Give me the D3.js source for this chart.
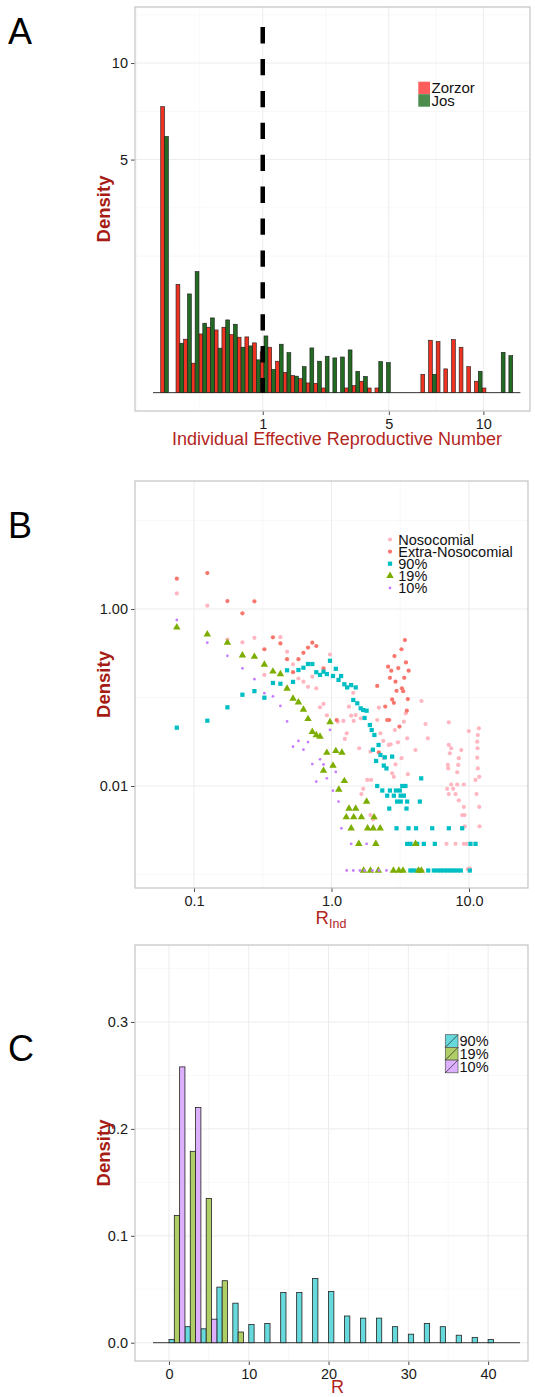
<!DOCTYPE html>
<html>
<head>
<meta charset="utf-8">
<script src="https://cdn.jsdelivr.net/npm/d3@7"></script>
<style>
  body { margin: 0; background: #fff; }
  svg { display: block; font-family: "Liberation Sans", Arial, sans-serif; }
</style>
</head>
<body>
<svg id="fig" width="535" height="1397"></svg>
<script>
// ===============================
// DATA
// ===============================

// Panel A: histogram on a square-root axis, bins of equal width in sqrt space
const sqrtBinWidth = 0.075;
const zorzor = [7.53, 0, 1.08, 0.263, 0.080, 0.317, 0.394, 0.362, 0.394, 0.310, 0.283, 0.286, 0.228, 0.153, 0.190, 0.091,
  0.038, 0.027, 0.018, 0.0087, 0.0081, 0.002, 0, 0, 0.002, 0.0045, 0.012, 0.002, 0.002, 0, 0, 0, 0, 0, 0.031, 0.253,
  0.240, 0.052, 0.259, 0.190, 0.062, 0.012, 0.002, 0, 0, 0];
const jos = [6.04, 0, 0.225, 0.897, 1.348, 0.444, 0.514, 0.182, 0.487, 0.431, 0.190, 0.201, 0.099, 0.296, 0.050, 0.216,
  0.147, 0.025, 0.062, 0.184, 0.091, 0.122, 0.111, 0.117, 0.168, 0.042, 0.024, 0, 0.089, 0.083, 0, 0, 0, 0, 0, 0.031,
  0, 0, 0, 0, 0, 0.042, 0, 0, 0.150, 0.126];
const cutoff = 1;
const cutoffTop = 12.3;
const aXTicks = [1, 5, 10];
const aYTicks = [5, 10];
const aLegend = ["Zorzor", "Jos"];

// Panel B: [R_ind, density]
const nosocomial = [[0.075,1.50],[0.125,1.09],[0.175,0.452],[0.225,0.420],[0.275,0.473],[0.325,0.180],[0.425,0.480],
  [0.475,0.329],[0.525,0.237],[0.575,0.164],[0.625,0.151],[0.675,0.132],[0.725,0.172],[0.775,0.127],[0.825,0.0775],
  [0.875,0.0845],[0.925,0.0629],[0.975,0.306],[1.11,0.0533],[1.22,0.0543],[1.25,0.034],[1.29,0.0394],[1.34,0.0787],
  [1.39,0.0623],[1.44,0.113],[1.45,0.0543],[1.50,0.0634],[1.59,0.0267],[1.63,0.0582],[1.65,0.0081],[1.70,0.0093],
  [1.82,0.0117],[1.92,0.0244],[1.94,0.0117],[1.92,0.0047],[2.01,0.0042],[2.15,0.0557],[2.21,0.0767],[2.27,0.0394],
  [2.38,0.0323],[2.40,0.0206],[2.61,0.0291],[2.69,0.0296],[2.76,0.0139],[2.84,0.0127],[2.89,0.0429],[2.92,0.0176],
  [3.04,0.0312],[3.23,0.0206],[3.36,0.0533],[3.47,0.0663],[3.55,0.0346],[3.59,0.0136],[3.75,0.00111],[4.08,0.0255],
  [4.51,0.0913],[4.57,0.00111],[4.83,0.0502],[5.02,0.0346],[6.94,0.0093],[6.86,0.00222],[7.01,0.0173],[7.06,0.0158],
  [7.13,0.0525],[7.13,0.0291],[7.13,0.0081],[7.25,0.0234],[7.42,0.0267],[7.42,0.0104],[7.67,0.0093],[7.98,0.0081],
  [7.98,0.00222],[8.21,0.0143],[8.21,0.0104],[8.35,0.0173],[8.43,0.0206],[8.43,0.0069],[8.78,0.0255],[8.92,0.0047],
  [9.17,0.0104],[9.17,0.0058],[9.17,0.00222],[9.28,0.0047],[9.32,0.0035],[9.59,0.00222],[9.80,0.00115],[9.97,0.0418],
  [10.13,0.00117],[11.15,0.0117],[11.34,0.0081],[11.47,0.0317],[11.47,0.0209],[11.53,0.0267],[11.59,0.0377],
  [11.59,0.0158],[11.79,0.0449],[11.87,0.0127],[11.87,0.0058],[11.92,0.0035]];
const extraNosocomial = [[0.075,2.20],[0.125,2.55],[0.175,1.23],[0.225,0.894],[0.275,1.22],[0.325,0.351],[0.375,0.479],
  [0.425,0.408],[0.475,0.271],[0.525,0.193],[0.575,0.271],[0.625,0.320],[0.675,0.367],[0.725,0.416],[0.775,0.382],
  [0.875,0.214],[1.09,0.0557],[2.15,0.135],[2.21,0.024],[2.46,0.079],[2.54,0.0557],[2.63,0.0557],[2.58,0.223],
  [2.66,0.167],[2.72,0.201],[2.76,0.095],[2.84,0.087],[2.87,0.294],[2.92,0.151],[2.97,0.119],[3.06,0.215],[3.12,0.047],
  [3.23,0.351],[3.25,0.127],[3.32,0.118],[3.38,0.167],[3.42,0.446],[3.48,0.249],[3.53,0.071],[3.59,0.096],[3.64,0.201]];
const vacc90 = [[0.075,0.0456],[0.125,0.0547],[0.175,0.0775],[0.225,0.1075],[0.275,0.118],[0.325,0.0995],[0.375,0.146],
  [0.425,0.143],[0.475,0.203],[0.525,0.150],[0.575,0.2045],[0.625,0.217],[0.675,0.239],[0.725,0.239],[0.775,0.193],
  [0.825,0.180],[0.875,0.196],[0.925,0.184],[0.975,0.260],[1.025,0.175],[1.075,0.211],[1.125,0.158],[1.175,0.175],
  [1.24,0.141],[1.30,0.130],[1.39,0.138],[1.50,0.130],[1.44,0.0937],[1.54,0.086],[1.63,0.0755],[1.70,0.0722],
  [1.80,0.0709],[1.74,0.0587],[1.90,0.0489],[1.96,0.0429],[2.05,0.0377],[2.20,0.0291],[2.00,0.0257],[2.27,0.0224],
  [2.44,0.0211],[2.76,0.0215],[2.11,0.0192],[2.40,0.017],[2.51,0.0158],[4.49,0.0122],[2.15,0.0100],[2.34,0.00889],
  [2.66,0.00889],[2.94,0.00889],[3.14,0.00889],[3.27,0.0100],[3.45,0.0100],[2.54,0.00778],[2.84,0.00778],
  [3.18,0.00778],[3.36,0.00778],[3.00,0.00667],[3.19,0.00667],[3.55,0.00667],[4.39,0.00667],[2.63,0.00556],
  [3.51,0.00556],[2.97,0.00333],[3.63,0.00333],[4.12,0.00333],[5.40,0.00333],[7.13,0.00333],[8.92,0.00333],
  [3.55,0.00222],[3.75,0.00222],[4.20,0.00222],[4.69,0.00222],[5.64,0.00222],[10.25,0.00222],[11.15,0.00222],
  [3.75,0.00111],[3.97,0.00111],[4.29,0.00111],[5.05,0.00111],[5.55,0.00111],[5.90,0.00111],[6.24,0.00111],
  [6.60,0.00111],[6.98,0.00111],[7.37,0.00111],[7.80,0.00111],[8.25,0.00111],[8.72,0.00111],[10.13,0.00111]];
const vacc19 = [[0.075,0.621],[0.125,0.518],[0.175,0.416],[0.225,0.300],[0.275,0.289],[0.325,0.235],[0.375,0.197],
  [0.425,0.184],[0.475,0.126],[0.525,0.0972],[0.575,0.0883],[0.625,0.073],[0.675,0.0572],[0.725,0.041],[0.775,0.0377],
  [0.825,0.0361],[0.975,0.0529],[0.925,0.0238],[1.075,0.0249],[1.19,0.0239],[0.875,0.0149],[1.025,0.017],[1.24,0.0114],
  [1.13,0.0091],[1.34,0.00556],[1.50,0.00556],[1.80,0.00667],[1.28,0.00444],[1.45,0.00444],[1.65,0.00444],
  [2.04,0.00444],[1.39,0.00333],[1.83,0.00333],[2.01,0.00333],[2.26,0.00333],[1.58,0.00222],[2.10,0.00222],
  [4.08,0.00222],[1.71,0.00111],[1.92,0.00111],[2.19,0.00111],[2.82,0.00111],[3.09,0.00111],[3.31,0.00111],
  [4.29,0.00111],[4.50,0.00111]];
const vacc10 = [[0.075,0.751],[0.125,0.416],[0.175,0.296],[0.225,0.214],[0.275,0.161],[0.325,0.112],[0.375,0.103],
  [0.425,0.0802],[0.475,0.0536],[0.525,0.0278],[0.575,0.0323],[0.625,0.0257],[0.675,0.0314],[0.725,0.0177],
  [0.775,0.0112],[0.825,0.020],[0.875,0.0175],[0.925,0.0122],[0.975,0.0432],[1.025,0.00885],[1.075,0.0144],
  [1.125,0.00667],[1.18,0.00333],[1.39,0.00222],[1.80,0.00222],[1.29,0.00111],[1.44,0.00111],[1.61,0.00111],
  [1.74,0.00111],[1.98,0.00111],[2.21,0.00111],[2.51,0.00111]];
const bXTicks = [0.1, 1, 10];
const bXLabels = ["0.1", "1.0", "10.0"];
const bYTicks = [0.01, 1];
const bYLabels = ["0.01", "1.00"];
const bLegend = ["Nosocomial", "Extra-Nosocomial", "90%", "19%", "10%"];

// Panel C: histogram of R, bins of width 2 starting at 0
const rBinStart = 0;
const rBinWidth = 2;
const r90 = [0.003, 0.015, 0.013, 0.052, 0.037, 0.017, 0.018, 0.047, 0.047, 0.060, 0.048, 0.025, 0.023, 0.023,
  0.015, 0.008, 0.018, 0.015, 0.007, 0.005, 0.003];
const r19 = [0.119, 0.179, 0.135, 0.058, 0.010];
const r10 = [0.258, 0.220, 0.022];
const cXTicks = [0, 10, 20, 30, 40];
const cYTicks = [0, 0.1, 0.2, 0.3];
const cLegend = ["90%", "19%", "10%"];

// ===============================
// HELPERS
// ===============================
const svg = d3.select("#fig");
const titleRed = "#a61c14";
const labelRed = "#b3261e";

const sq = s => Math.sign(s) * s * s;

// ggplot-like minor breaks: midpoints between majors in transformed space
function minorBreaks(major, f, finv) {
  const t = major.map(f);
  const d = t[1] - t[0];
  const ext = [t[0] - d, ...t, t[t.length - 1] + d];
  const out = [ext[0], ext[ext.length - 1]];
  for (let i = 0; i < ext.length - 1; i++) out.push((ext[i] + ext[i + 1]) / 2);
  return out.map(finv);
}

function panel(box, x, y, opt) {
  const g = svg.append("g");
  g.append("rect").attr("x", box.left).attr("y", box.top)
    .attr("width", box.right - box.left).attr("height", box.bottom - box.top).attr("fill", "#fff");

  const inX = v => { const p = x(v); return p > box.left + 1 && p < box.right - 1; };
  const inY = v => { const p = y(v); return p > box.top + 1 && p < box.bottom - 1; };

  const vline = (vals, w, c) => g.append("g").selectAll("line").data(vals.filter(inX)).join("line")
    .attr("x1", d => x(d)).attr("x2", d => x(d)).attr("y1", box.top).attr("y2", box.bottom)
    .attr("stroke", c).attr("stroke-width", w);
  const hline = (vals, w, c) => g.append("g").selectAll("line").data(vals.filter(inY)).join("line")
    .attr("y1", d => y(d)).attr("y2", d => y(d)).attr("x1", box.left).attr("x2", box.right)
    .attr("stroke", c).attr("stroke-width", w);

  vline(opt.xMinor, 0.6, "#f3f3f3");
  hline(opt.yMinor, 0.6, "#f3f3f3");
  vline(opt.xTicks, 1, "#ececec");
  hline(opt.yTicks, 1, "#ececec");

  const ax = svg.append("g").attr("transform", `translate(0,${box.bottom})`)
    .call(d3.axisBottom(x).tickValues(opt.xTicks).tickFormat((d, i) => opt.xLabels[i]).tickSize(4).tickPadding(4));
  const ay = svg.append("g").attr("transform", `translate(${box.left},0)`)
    .call(d3.axisLeft(y).tickValues(opt.yTicks).tickFormat((d, i) => opt.yLabels[i]).tickSize(4).tickPadding(3));
  [ax, ay].forEach(a => {
    a.select(".domain").remove();
    a.selectAll(".tick line").attr("stroke", "#4d4d4d");
    a.selectAll(".tick text").attr("font-size", 14.5).attr("fill", "#1a1a1a")
      .attr("font-family", '"Liberation Sans", Arial, sans-serif');
  });

  svg.append("text").attr("transform", `translate(110,${(box.top + box.bottom) / 2}) rotate(-90)`)
    .attr("text-anchor", "middle").attr("font-size", 18.5).attr("font-weight", "bold")
    .attr("fill", titleRed).text("Density");

  svg.append("text").attr("x", 8).attr("y", opt.letterY).attr("font-size", 36).attr("fill", "#000").text(opt.letter);
  return g;
}

function border(box) {
  svg.append("rect").attr("x", box.left).attr("y", box.top)
    .attr("width", box.right - box.left).attr("height", box.bottom - box.top)
    .attr("fill", "none").attr("stroke", "#c4c4c4").attr("stroke-width", 1.2);
}

// ===============================
// PANEL A
// ===============================
const boxA = { left: 135, right: 530, top: 7, bottom: 411 };
const xA = d3.scaleSqrt().domain([-0.0635, 13.10]).range([boxA.left, boxA.right]);
const yA = d3.scaleSqrt().domain([-0.031, 13.69]).range([boxA.bottom, boxA.top]);

panel(boxA, xA, yA, {
  xTicks: aXTicks, xLabels: aXTicks.map(String), yTicks: aYTicks, yLabels: aYTicks.map(String),
  xMinor: minorBreaks(aXTicks, Math.sqrt, sq), yMinor: minorBreaks(aYTicks, Math.sqrt, sq),
  letter: "A", letterY: 44
});

// zero-height bins draw the baseline, one empty bin either side
svg.append("line")
  .attr("x1", xA(sq(-sqrtBinWidth))).attr("x2", xA(sq((zorzor.length + 1) * sqrtBinWidth)))
  .attr("y1", yA(0)).attr("y2", yA(0)).attr("stroke", "#333").attr("stroke-width", 1);

const barsA = [];
zorzor.forEach((v, i) => barsA.push({ lo: i * sqrtBinWidth, hi: (i + 0.5) * sqrtBinWidth, v, c: "#ee3322" }));
jos.forEach((v, i) => barsA.push({ lo: (i + 0.5) * sqrtBinWidth, hi: (i + 1) * sqrtBinWidth, v, c: "#236b23" }));

svg.append("g").selectAll("rect").data(barsA.filter(d => d.v > 0)).join("rect")
  .attr("x", d => xA(sq(d.lo)))
  .attr("width", d => xA(sq(d.hi)) - xA(sq(d.lo)))
  .attr("y", d => yA(d.v))
  .attr("height", d => yA(0) - yA(d.v))
  .attr("fill", d => d.c).attr("stroke", "#1a1a1a").attr("stroke-width", 0.6);

svg.append("line")
  .attr("x1", xA(cutoff)).attr("x2", xA(cutoff)).attr("y1", yA(cutoffTop)).attr("y2", yA(0))
  .attr("stroke", "#000").attr("stroke-width", 4.5).attr("stroke-dasharray", "16.3,15.6");

border(boxA);

const legA = svg.append("g");
["#ff5c5c", "#4c8c4c"].forEach((c, i) => {
  legA.append("rect").attr("x", 418.3).attr("y", 81.7 + i * 12.5).attr("width", 11.7).attr("height", 12.5).attr("fill", c);
  legA.append("text").attr("x", 431.5).attr("y", 88 + i * 12.5).attr("dy", "0.35em")
    .attr("font-size", 15).attr("fill", "#111").text(aLegend[i]);
});

svg.append("text").attr("x", 337).attr("y", 445).attr("text-anchor", "middle")
  .attr("font-size", 18).attr("fill", labelRed).text("Individual Effective Reproductive Number");

// ===============================
// PANEL B
// ===============================
const boxB = { left: 135, right: 528, top: 481, bottom: 888 };
const xB = d3.scaleLog().domain([0.03724, 26.85]).range([boxB.left, boxB.right]);
const yB = d3.scaleLog().domain([0.000704, 27.94]).range([boxB.bottom, boxB.top]);
const p10 = t => Math.pow(10, t);

panel(boxB, xB, yB, {
  xTicks: bXTicks, xLabels: bXLabels, yTicks: bYTicks, yLabels: bYLabels,
  xMinor: minorBreaks(bXTicks, Math.log10, p10), yMinor: minorBreaks(bYTicks, Math.log10, p10),
  letter: "B", letterY: 538
});

const seriesB = [
  { data: nosocomial, type: d3.symbolCircle, size: 14, c: "#ffb6c1" },
  { data: extraNosocomial, type: d3.symbolCircle, size: 14, c: "#f8766d" },
  { data: vacc90, type: d3.symbolSquare, size: 18, c: "#00bfc4" },
  { data: vacc19, type: d3.symbolTriangle, size: 24, c: "#7cae00" },
  { data: vacc10, type: d3.symbolCircle, size: 6, c: "#c77cff" }
];

seriesB.forEach(s => {
  const sym = d3.symbol().type(s.type).size(s.size);
  svg.append("g").selectAll("path").data(s.data).join("path")
    .attr("transform", d => `translate(${xB(d[0])},${yB(d[1])})`)
    .attr("d", sym).attr("fill", s.c);
});

border(boxB);

const legB = svg.append("g");
seriesB.forEach((s, i) => {
  const cy = 539.5 + i * 12.1;
  legB.append("path").attr("transform", `translate(390,${cy})`)
    .attr("d", d3.symbol().type(s.type).size(s.size)).attr("fill", s.c);
  legB.append("text").attr("x", 398.3).attr("y", cy).attr("dy", "0.35em")
    .attr("font-size", 14.5).attr("fill", "#111").text(bLegend[i]);
});

const tB = svg.append("text").attr("x", 331).attr("y", 924).attr("text-anchor", "middle")
  .attr("font-size", 18.5).attr("fill", labelRed);
tB.append("tspan").text("R");
tB.append("tspan").attr("font-size", 12.5).attr("dy", 4).text("Ind");

// ===============================
// PANEL C
// ===============================
const boxC = { left: 135, right: 528, top: 945, bottom: 1361 };
const xC = d3.scaleLinear().domain([-4.26, 45.0]).range([boxC.left, boxC.right]);
const yC = d3.scaleLinear().domain([-0.0171, 0.372]).range([boxC.bottom, boxC.top]);
const idf = v => v;

panel(boxC, xC, yC, {
  xTicks: cXTicks, xLabels: cXTicks.map(String), yTicks: cYTicks, yLabels: cYTicks.map(d => d.toFixed(1)),
  xMinor: minorBreaks(cXTicks, idf, idf), yMinor: minorBreaks(cYTicks, idf, idf),
  letter: "C", letterY: 1061
});

svg.append("line")
  .attr("x1", xC(rBinStart - rBinWidth)).attr("x2", xC(rBinStart + (r90.length + 1) * rBinWidth))
  .attr("y1", yC(0)).attr("y2", yC(0)).attr("stroke", "#333").attr("stroke-width", 1);

const fillsC = ["#66d9dc", "#b0ce66", "#ddb0ff"];
const barsC = [];
[r90, r19, r10].forEach((arr, k) => arr.forEach((v, i) => {
  const lo = rBinStart + i * rBinWidth + k * rBinWidth / 3;
  barsC.push({ lo, hi: lo + rBinWidth / 3, v, c: fillsC[k] });
}));

svg.append("g").selectAll("rect").data(barsC.filter(d => d.v > 0)).join("rect")
  .attr("x", d => xC(d.lo)).attr("width", d => xC(d.hi) - xC(d.lo))
  .attr("y", d => yC(d.v)).attr("height", d => yC(0) - yC(d.v))
  .attr("fill", d => d.c).attr("stroke", "#222").attr("stroke-width", 0.8);

border(boxC);

const legC = svg.append("g");
fillsC.forEach((c, i) => {
  const y0 = 1034.7 + i * 12.7;
  legC.append("rect").attr("x", 445.3).attr("y", y0).attr("width", 12.7).attr("height", 12.7)
    .attr("fill", c).attr("stroke", "#555").attr("stroke-width", 0.7);
  legC.append("line").attr("x1", 445.3).attr("y1", y0 + 12.7).attr("x2", 458).attr("y2", y0)
    .attr("stroke", "#222").attr("stroke-width", 0.7);
  legC.append("text").attr("x", 459.5).attr("y", y0 + 6.35).attr("dy", "0.35em")
    .attr("font-size", 14.5).attr("fill", "#111").text(cLegend[i]);
});

svg.append("text").attr("x", 337.5).attr("y", 1393).attr("text-anchor", "middle")
  .attr("font-size", 18).attr("fill", labelRed).text("R");
</script>
</body>
</html>
